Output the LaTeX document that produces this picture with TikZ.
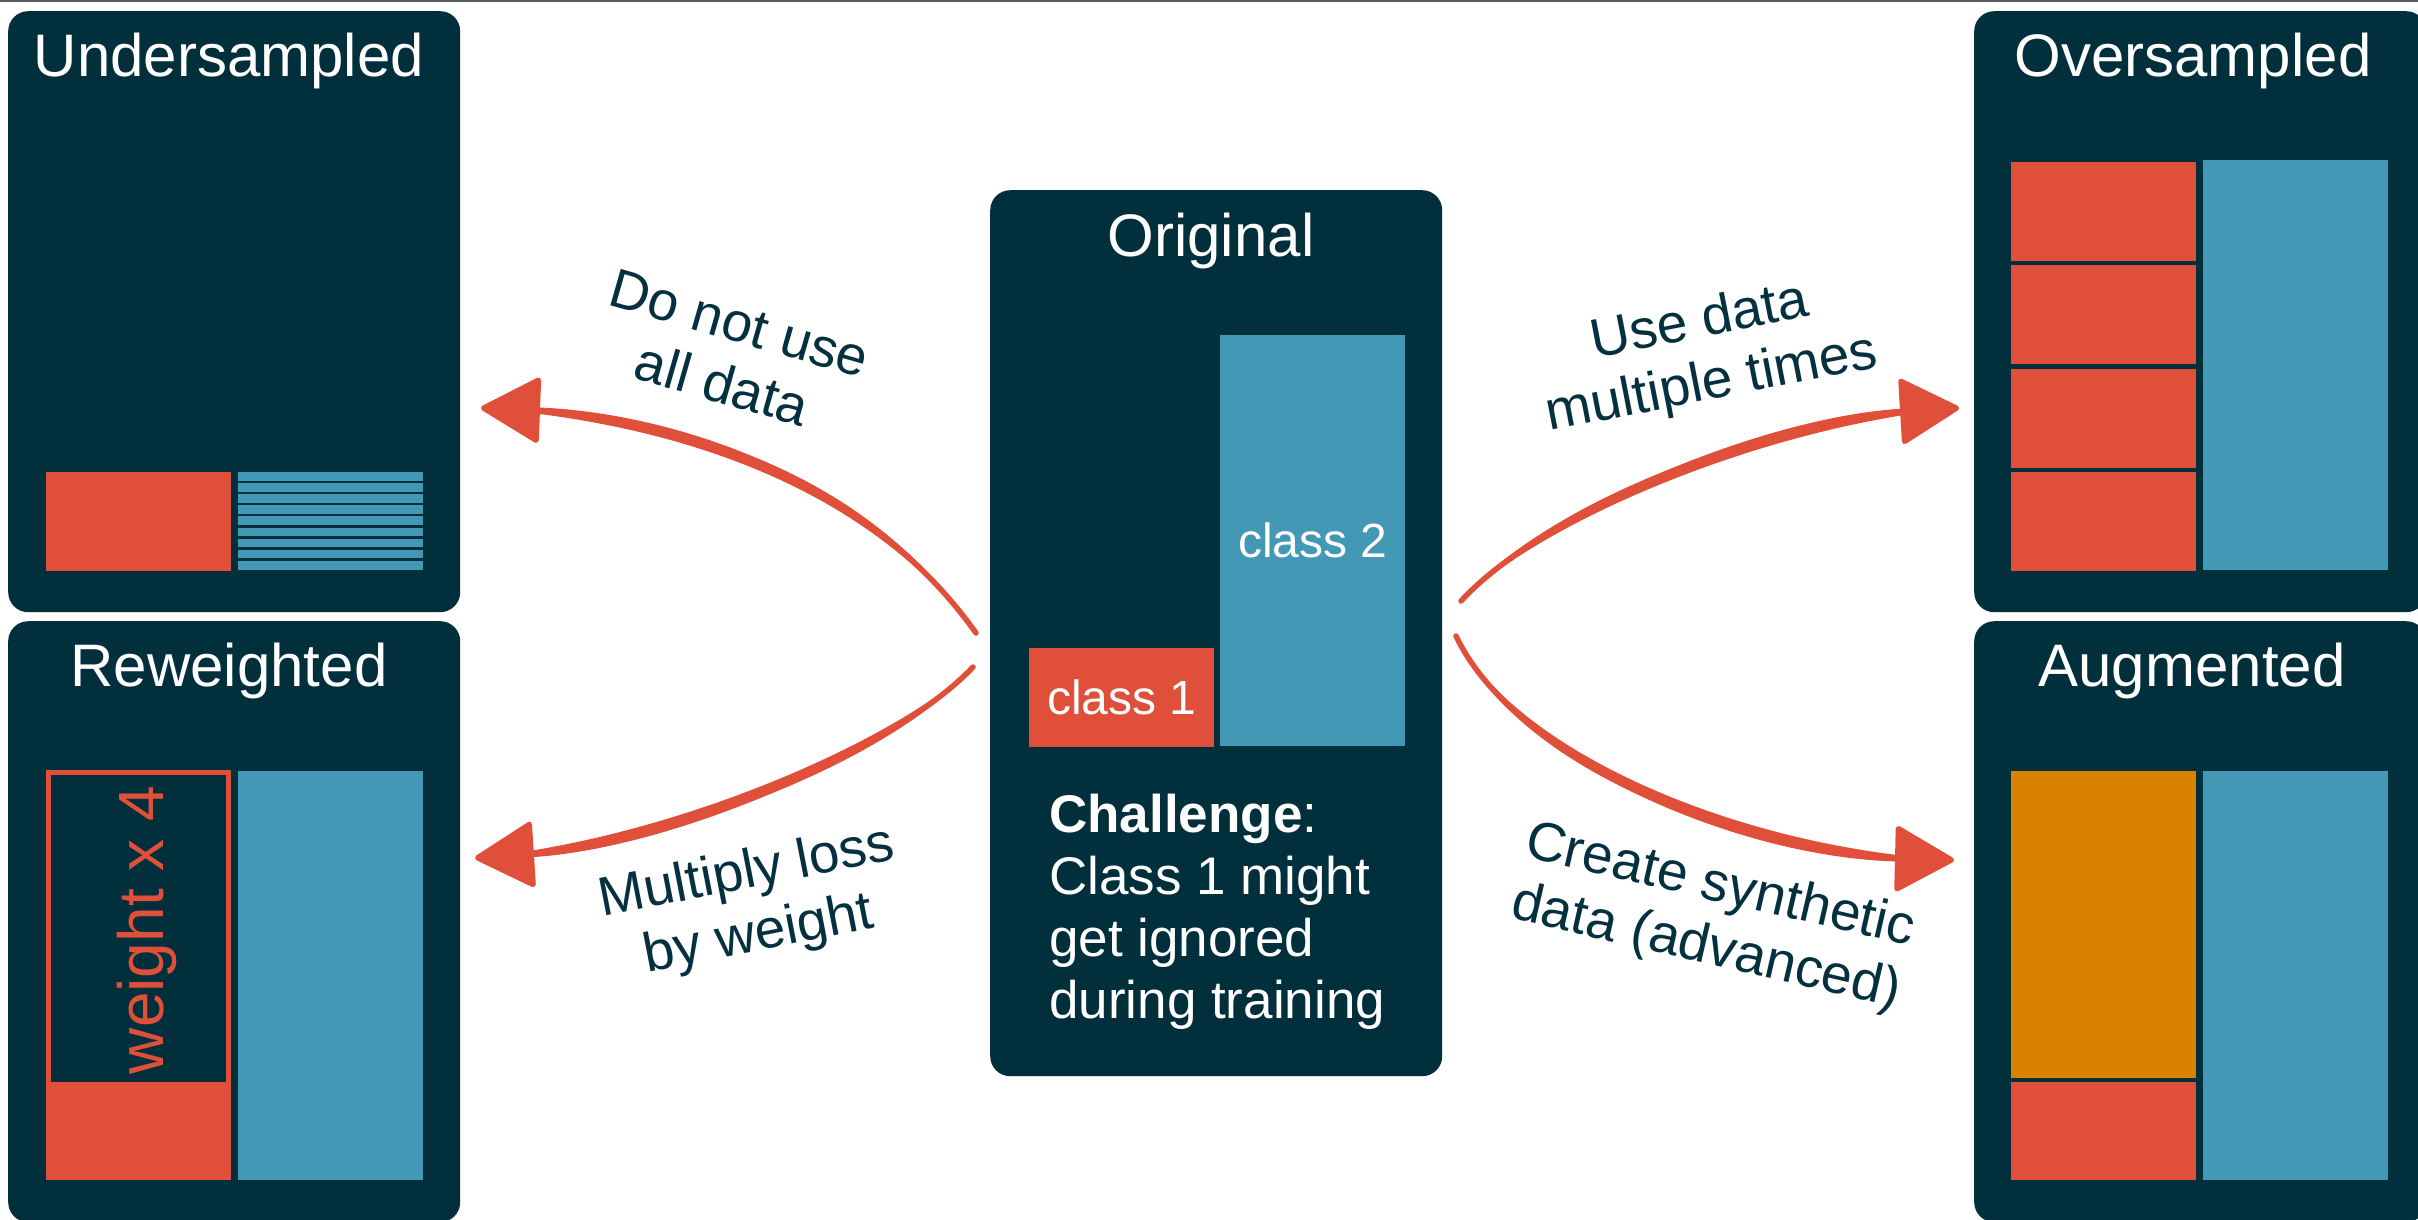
\documentclass[tikz,border=0pt]{standalone}
\usepackage{fontspec}
\setmainfont{Liberation Sans}
\usetikzlibrary{arrows.meta}

\definecolor{panelc}{HTML}{022F3C}
\definecolor{redc}{HTML}{E04F39}
\definecolor{bluec}{HTML}{4398B5}
\definecolor{orangec}{HTML}{D98200}
\definecolor{labelc}{HTML}{053040}
\definecolor{edgec}{HTML}{5A5F63}
\newcommand{\fs}[2]{\fontsize{#1pt}{#2pt}\selectfont}

\begin{document}
\begin{tikzpicture}[x=1pt, y=-1pt,
    panel/.style={fill=panelc, rounded corners=20pt, anchor=north west, inner sep=0pt, minimum width=452pt},
    title/.style={text=white, anchor=base, font=\fs{60}{70}},
    cls/.style={inner sep=0pt, anchor=north west, minimum width=185pt, text=white, font=\fs{48}{56}},
    brush/.style={draw=redc, line width=5.5pt, line cap=round, -{Triangle[length=62pt, width=68pt, round]}},
    lbl/.style={text=labelc, align=center, font=\fs{55}{63}}]
    \useasboundingbox (0, 0) rectangle (2418, 1220);
        \draw[edgec, line width=2pt] (0, 1) -- (2418, 1);

        % the five panels
        \node[panel, minimum height=601pt] (under) at (8, 11) {};
        \node[panel, minimum height=601pt] (reweight) at (8, 621) {};
        \node[panel, minimum height=886pt] (orig) at (990, 190) {};
        \node[panel, minimum height=601pt] (over) at (1974, 11) {};
        \node[panel, minimum height=601pt] (aug) at (1974, 621) {};

        \node[title] (tUnder) at (229, 77) {Undersampled};
        \node[title] (tReweight) at (229, 686) {Reweighted};
        \node[title] (tOrig) at (1211, 256) {Original};
        \node[title] (tOver) at (2193, 77) {Oversampled};
        \node[title] (tAug) at (2192, 686) {Augmented};

        % original
        \node[cls, fill=redc, minimum height=99pt] (cls1) at (1029, 648) {class 1};
        \node[cls, fill=bluec, minimum height=411pt] (cls2) at (1220, 335) {class 2};
        \node[text=white, align=left, anchor=north west, inner sep=0pt, font=\fs{53}{62}] (chal) at (1049, 794)
            {\textbf{Challenge}:\\Class 1 might\\get ignored\\during training};

        % undersampled
        \fill[redc] (46, 472) rectangle (231, 571);
        \foreach \i in {0,...,8} {
            \fill[bluec] (238, 472+11.1*\i) rectangle ++(185, 8.7);
        }

        % reweighted
        \draw[redc, line width=5pt] (48.5, 772.5) rectangle (228.5, 1084);
        \fill[redc] (46, 1082) rectangle (231, 1180);
        \fill[bluec] (238, 771) rectangle (423, 1180);
        \node[text=redc, rotate=90, anchor=base, font=\fs{64}{70}] (wlbl) at (163, 930) {weight x 4};

        % oversampled
        \foreach \i in {0,...,3} {
            \fill[redc] (2011, 162+103.3*\i) rectangle ++(185, 99);
        }
        \fill[bluec] (2203, 160) rectangle (2388, 570);

        % augmented
        \fill[orangec] (2011, 771) rectangle (2196, 1078);
        \fill[redc] (2011, 1082) rectangle (2196, 1180);
        \fill[bluec] (2203, 771) rectangle (2388, 1180);

        % arrows
        \coordinate (ulS) at (976, 633);
        \coordinate (ulE) at (481, 408);
        \coordinate (llS) at (973, 667);
        \coordinate (llE) at (475, 858);
        \coordinate (urS) at (1461, 601);
        \coordinate (urE) at (1959, 408);
        \coordinate (lrS) at (1456, 636);
        \coordinate (lrE) at (1954, 860);

        \draw[brush] (ulS) .. controls (860, 470) and (660, 415) .. (ulE);
        \draw[brush] (llS) .. controls (900, 745) and (680, 845) .. (llE);
        \draw[brush] (urS) .. controls (1540, 515) and (1760, 420) .. (urE);
        \draw[brush] (lrS) .. controls (1515, 760) and (1740, 855) .. (lrE);
        % brush swell in the middle of each stroke
        \fill[redc] (ulS) .. controls (862.9, 463.6) and (662.9, 408.6) .. (ulE)
            .. controls (657.1, 421.4) and (857.1, 476.4) .. (ulS) -- cycle;
        \fill[redc] (llS) .. controls (902.5, 751.5) and (682.5, 851.5) .. (llE)
            .. controls (677.5, 838.5) and (897.5, 738.5) .. (llS) -- cycle;
        \fill[redc] (urS) .. controls (1542.5, 521.5) and (1762.5, 426.5) .. (urE)
            .. controls (1757.5, 413.5) and (1537.5, 508.5) .. (urS) -- cycle;
        \fill[redc] (lrS) .. controls (1512.1, 766.4) and (1737.1, 861.4) .. (lrE)
            .. controls (1742.9, 848.6) and (1517.9, 753.6) .. (lrS) -- cycle;

        \node[lbl, rotate=-16] (lblUnder) at (731, 354) {Do not use\\all data};
        \node[lbl, rotate=11] (lblOver) at (1706, 354) {Use data\\multiple times};
        \node[lbl, rotate=11] (lblWeight) at (753, 905) {Multiply loss\\by weight};
        \node[lbl, rotate=-13] (lblAug) at (1713, 918) {Create synthetic\\data (advanced)};
    \end{tikzpicture}
\end{document}
